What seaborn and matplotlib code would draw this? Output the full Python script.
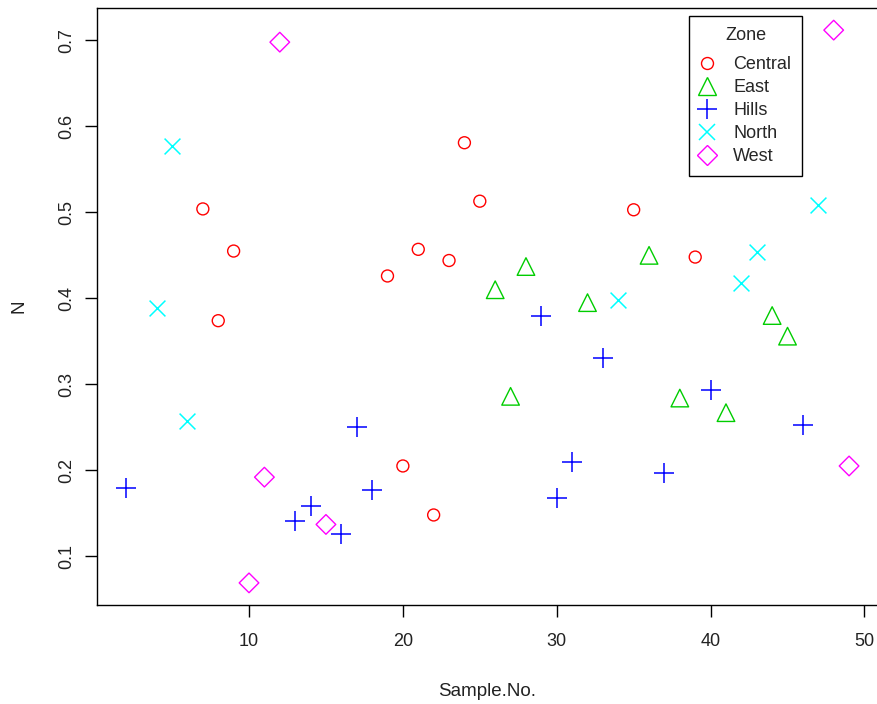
import matplotlib.pyplot as plt
from matplotlib.lines import Line2D
import numpy as np
import pandas as pd
import seaborn as sns


zones = ["Central", "East", "Hills", "North", "West"]
zone_colors = ["#FF0000", "#00CD00", "#0000FF", "#00FFFF", "#FF00FF"]
zone_markers = ["o", "^", "+", "x", "D"]
zone_sizes = [74, 160, 210, 130, 100]

central_no = [7, 8, 9, 19, 20, 21, 22, 23, 24, 25, 35, 39]
central_n = [0.504, 0.374, 0.455, 0.426, 0.205, 0.457, 0.148, 0.444, 0.581, 0.513, 0.503, 0.448]

east_no = [26, 27, 28, 32, 36, 38, 41, 44, 45]
east_n = [0.410, 0.286, 0.437, 0.395, 0.450, 0.284, 0.267, 0.380, 0.356]

hills_no = [2, 13, 14, 16, 17, 18, 29, 30, 31, 33, 37, 40, 46]
hills_n = [0.179, 0.141, 0.158, 0.126, 0.250, 0.177, 0.379, 0.168, 0.210, 0.331, 0.197, 0.293, 0.253]

north_no = [4, 5, 6, 34, 42, 43, 47]
north_n = [0.389, 0.577, 0.257, 0.398, 0.418, 0.454, 0.509]

west_no = [10, 11, 12, 15, 48, 49]
west_n = [0.069, 0.192, 0.698, 0.137, 0.712, 0.205]


def build_frame():
    parts = []
    for zone, no, n in zip(zones,
                           [central_no, east_no, hills_no, north_no, west_no],
                           [central_n, east_n, hills_n, north_n, west_n]):
        parts.append(pd.DataFrame({"Sample.No.": no, "N": n, "Zone": zone}))
    return pd.concat(parts, ignore_index=True)


def plot(df):
    sns.set_style("ticks")
    plt.rcParams['font.family'] = ['Liberation Sans', 'DejaVu Sans']

    fig = plt.figure(figsize=(8.77, 7.04), dpi=100)
    ax = fig.add_axes([97 / 877, 99 / 704, 781 / 877, 597 / 704])

    for zone, color, marker, size in zip(zones, zone_colors, zone_markers, zone_sizes):
        sub = df[df["Zone"] == zone]
        if marker in ("+", "x"):
            sns.scatterplot(data=sub, x="Sample.No.", y="N", marker=marker,
                            s=size, color=color, linewidth=1.1, ax=ax)
        else:
            sns.scatterplot(data=sub, x="Sample.No.", y="N", marker=marker,
                            s=size, facecolors="none", edgecolor=color,
                            linewidth=1.0, ax=ax)

    # R style 4% padding
    xmin, xmax = df["Sample.No."].min(), df["Sample.No."].max()
    ymin, ymax = df["N"].min(), df["N"].max()
    ax.set_xlim(xmin - 0.04 * (xmax - xmin), xmax + 0.04 * (xmax - xmin))
    ax.set_ylim(ymin - 0.04 * (ymax - ymin), ymax + 0.04 * (ymax - ymin))

    ax.set_xticks([10, 20, 30, 40, 50])
    ax.set_yticks([0.1, 0.2, 0.3, 0.4, 0.5, 0.6, 0.7])
    ax.set_yticklabels(["0.1", "0.2", "0.3", "0.4", "0.5", "0.6", "0.7"],
                       rotation=90, va="center")
    ax.tick_params(direction="out", length=8.5, width=1, color="black",
                   labelsize=13, labelcolor="#222222")
    ax.tick_params(axis="x", pad=12)
    ax.tick_params(axis="y", pad=7.5)
    for spine in ax.spines.values():
        spine.set_visible(True)
        spine.set_color("black")
        spine.set_linewidth(1)

    ax.set_xlabel("Sample.No.", fontsize=13.5, color="#222222", va="center")
    ax.xaxis.set_label_coords(0.5, -0.145)
    ax.set_ylabel("N", fontsize=13.5, color="#222222", va="center")
    ax.yaxis.set_label_coords(-0.1, 0.5)

    handles = []
    for zone, color, marker, size in zip(zones, zone_colors, zone_markers, zone_sizes):
        if marker in ("+", "x"):
            h = Line2D([], [], linestyle="none", marker=marker, color=color,
                       markersize=np.sqrt(size), markeredgewidth=1.1)
        else:
            h = Line2D([], [], linestyle="none", marker=marker, markersize=np.sqrt(size),
                       markerfacecolor="none", markeredgecolor=color, markeredgewidth=1.0)
        handles.append(h)
    leg = ax.legend(handles, zones, title="Zone", loc="upper left",
                    bbox_to_anchor=(0.758, 0.987), borderaxespad=0,
                    fontsize=13, title_fontsize=13,
                    frameon=True, fancybox=False, edgecolor="black",
                    handletextpad=1.07, labelspacing=0.33, borderpad=0.62,
                    handlelength=0.75)
    leg.get_frame().set_linewidth(1)
    leg.get_frame().set_alpha(1)
    leg._legend_box.sep = 8.9

    fig.savefig("out.png", dpi=100)


if __name__ == '__main__':
    df = build_frame()
    plot(df)
